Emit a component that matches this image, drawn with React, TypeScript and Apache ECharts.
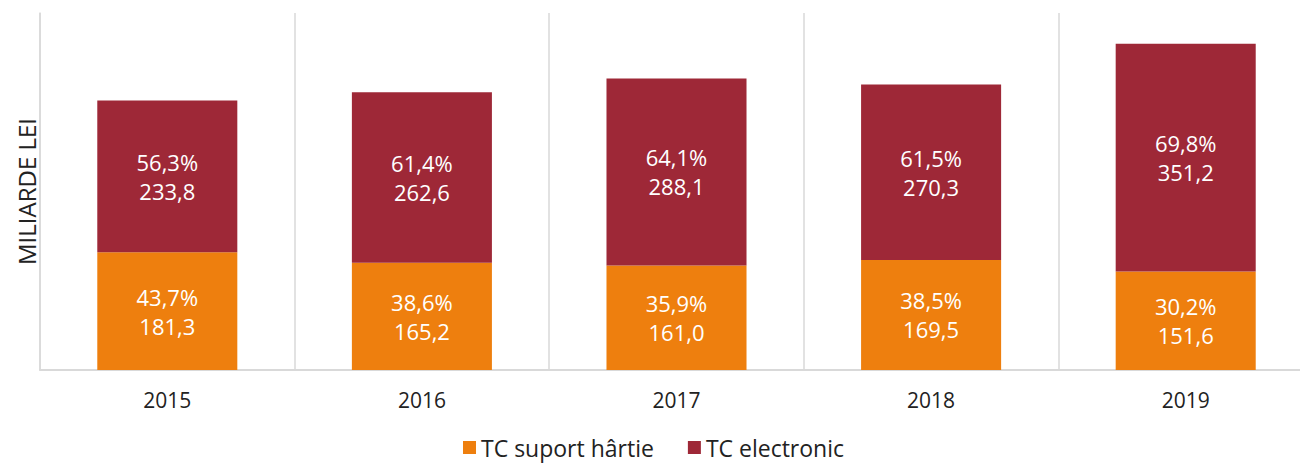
import React, { useEffect, useRef } from "react";
import * as echarts from "echarts";

const years = ["2015", "2016", "2017", "2018", "2019"];
const paperValues = [181.3, 165.2, 161.0, 169.5, 151.6];
const paperShares = [43.7, 38.6, 35.9, 38.5, 30.2];
const electronicValues = [233.8, 262.6, 288.1, 270.3, 351.2];
const electronicShares = [56.3, 61.4, 64.1, 61.5, 69.8];
const seriesNames = ["TC suport hârtie", "TC electronic"];

const fmt = (v: number) => v.toFixed(1).replace(".", ",");

export default function App() {
  const ref = useRef<HTMLDivElement>(null);
  useEffect(() => {
    if (!ref.current) return;
    const chart = echarts.init(ref.current, null, { renderer: "svg" });
    const font = "'Open Sans', sans-serif";
    const label = (shares: number[]) => ({
      show: true,
      position: "inside" as const,
      color: "#ffffff",
      fontSize: 22,
      lineHeight: 29,
      fontFamily: font,
      formatter: (p: any) => `${fmt(shares[p.dataIndex])}%\n${fmt(p.value)}`,
    });
    chart.setOption({
      animation: false,
      textStyle: { fontFamily: font },
      grid: { left: 40, top: 13, right: 0, bottom: 94, containLabel: false },
      legend: {
        top: 431,
        left: 458,
        itemWidth: 13,
        itemHeight: 13,
        itemGap: 34,
        icon: "rect",
        textStyle: { fontSize: 23, color: "#222", fontFamily: font },
        data: seriesNames,
      },
      xAxis: {
        type: "category",
        data: years,
        boundaryGap: true,
        axisLine: { show: true, lineStyle: { color: "#d9d9d9", width: 2 } },
        axisTick: { show: false },
        axisLabel: { fontSize: 21, color: "#222", margin: 19, fontFamily: font },
        splitLine: { show: true, lineStyle: { color: "#d9d9d9", width: 1.5 } },
      },
      yAxis: {
        type: "value",
        min: 0,
        max: 550,
        name: "MILIARDE LEI",
        nameLocation: "middle",
        nameGap: 2,
        nameRotate: 90,
        nameTextStyle: { fontSize: 24, color: "#222", fontFamily: font },
        axisLine: { show: true, lineStyle: { color: "#d9d9d9", width: 1.5 } },
        axisTick: { show: false },
        axisLabel: { show: false },
        splitLine: { show: false },
      },
      series: [
        {
          name: seriesNames[0],
          type: "bar",
          stack: "total",
          barWidth: "55%",
          data: paperValues,
          itemStyle: { color: "#EE7F0E" },
          label: label(paperShares),
        },
        {
          name: seriesNames[1],
          type: "bar",
          stack: "total",
          barWidth: "55%",
          data: electronicValues,
          itemStyle: { color: "#9E2837" },
          label: label(electronicShares),
        },
      ],
    });
    return () => chart.dispose();
  }, []);
  return (
    <div
      ref={ref}
      style={{ position: "fixed", left: 0, top: 0, width: 1313, height: 464, background: "#fff" }}
    />
  );
}
